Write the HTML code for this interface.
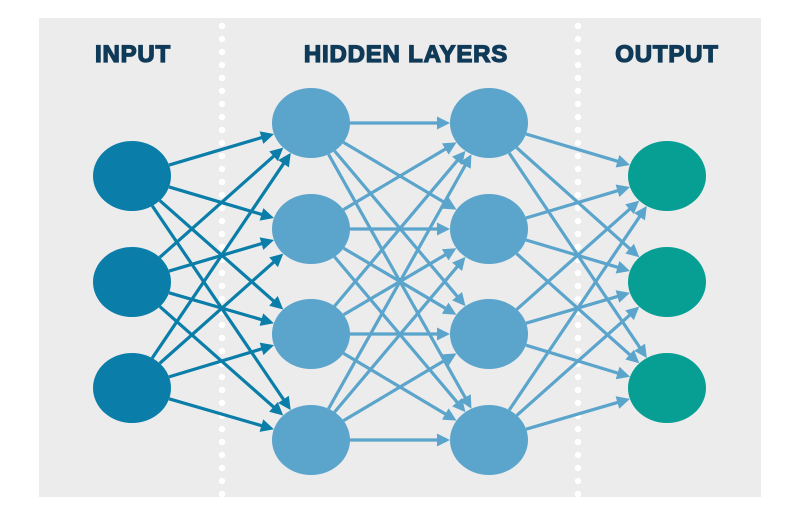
<!DOCTYPE html>
<html><head><meta charset="utf-8"><style>
html,body{margin:0;padding:0;background:#fff;width:800px;height:515px;overflow:hidden}
svg{display:block}
text{font-family:"Liberation Sans",sans-serif;font-weight:bold;font-size:24px;fill:#0f3a58;stroke:#0f3a58;stroke-width:1.3;text-anchor:middle;letter-spacing:0.8px}
</style></head><body>
<svg id="s" width="800" height="515" viewBox="0 0 800 515">
<rect x="39" y="18" width="722" height="479" fill="#ececec"/>
<text x="133" y="62">INPUT</text>
<text x="406" y="62">HIDDEN LAYERS</text>
<text x="667" y="62">OUTPUT</text>
<g id="dots" fill="#fff"></g>
<g id="edges"></g>
<g id="nodes"></g>
</svg>
<script>
var NS="http://www.w3.org/2000/svg";
function el(t,a,p){var e=document.createElementNS(NS,t);for(var k in a)e.setAttribute(k,a[k]);p.appendChild(e);return e;}
var dots=document.getElementById('dots');
[222,578].forEach(function(x){for(var y=26;y<497;y+=13)el('circle',{cx:x,cy:y,r:3.2},dots);});
var RX=39,RY=35;
var L=[{x:132,ys:[176,282,388],c:'#0a7ea9'},{x:311,ys:[123,229,334,440],c:'#5ba4cb'},{x:489,ys:[123,229,334,440],c:'#5ba4cb'},{x:667,ys:[176,282,388],c:'#079e94'}];
var E=document.getElementById('edges'),N=document.getElementById('nodes');
function bd(cx,cy,dx,dy){var t=1/Math.sqrt((dx*dx)/(RX*RX)+(dy*dy)/(RY*RY));return [cx+dx*t,cy+dy*t];}
for(var i=0;i<3;i++){var a=L[i],b=L[i+1],col=i==0?'#0a7ea9':'#5ba4cb';
a.ys.forEach(function(y1){b.ys.forEach(function(y2){
var dx=b.x-a.x,dy=y2-y1,len=Math.sqrt(dx*dx+dy*dy),ux=dx/len,uy=dy/len;
var s=bd(a.x,y1,ux,uy),e=bd(b.x,y2,-ux,-uy);
var hl=13,hw=6.5;var bx=e[0]-ux*hl,by=e[1]-uy*hl;
el('line',{x1:s[0],y1:s[1],x2:bx+ux*2,y2:by+uy*2,stroke:col,'stroke-width':3.2},E);
el('polygon',{points:e[0]+','+e[1]+' '+(bx-uy*hw)+','+(by+ux*hw)+' '+(bx+uy*hw)+','+(by-ux*hw),fill:col},E);
});});}
L.forEach(function(l){l.ys.forEach(function(y){el('ellipse',{cx:l.x,cy:y,rx:RX,ry:RY,fill:l.c},N);});});
</script>
</body></html>
